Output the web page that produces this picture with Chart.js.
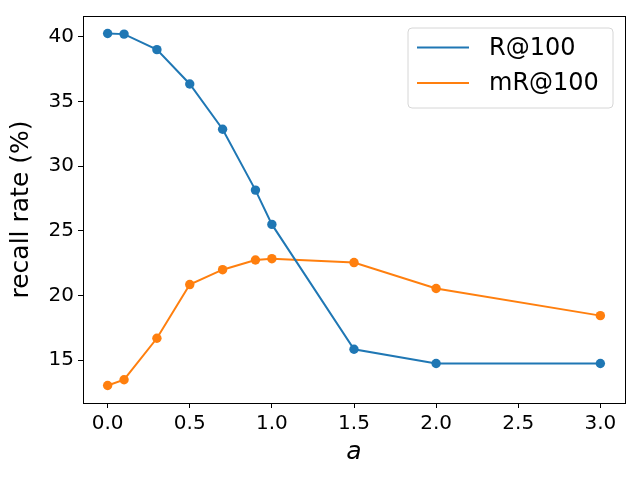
<!DOCTYPE html>
<html>
<head>
<meta charset="utf-8">
<script src="https://cdn.jsdelivr.net/npm/chart.js@4"></script>
<style>
  html,body{margin:0;padding:0;background:#fff;}
  #wrap{width:640px;height:480px;}
</style>
</head>
<body>
<div id="wrap"><canvas id="c" width="640" height="480"></canvas></div>
<script>
/* ── data ── */
const aValues  = [0, 0.1, 0.3, 0.5, 0.7, 0.9, 1.0, 1.5, 2.0, 3.0];
const recall   = [40.25, 40.2, 39.0, 36.35, 32.85, 28.15, 25.5, 15.85, 14.75, 14.75];
const mRecall  = [13.05, 13.5, 16.7, 20.85, 22.0, 22.75, 22.85, 22.55, 20.55, 18.45];
const xTicks   = [0, 0.5, 1.0, 1.5, 2.0, 2.5, 3.0];
const yTicks   = [15, 20, 25, 30, 35, 40];
const seriesNames = ['R@100', 'mR@100'];
const colors   = ['#1f77b4', '#ff7f0e'];

const FONT = "'DejaVu Sans', sans-serif";

// 위/오른쪽 테두리 + 범례 박스
const framePlugin = {
  id: 'frame',
  afterDraw(chart){
    const {ctx, chartArea:a} = chart;
    ctx.save();
    ctx.strokeStyle = '#000'; ctx.lineWidth = 1;
    ctx.strokeRect(a.left+0.5, a.top+0.5, a.right-a.left, a.bottom-a.top);

    // legend
    const bx=408, by=28, bw=205, bh=80, r=4;
    ctx.beginPath();
    ctx.moveTo(bx+r,by); ctx.lineTo(bx+bw-r,by); ctx.quadraticCurveTo(bx+bw,by,bx+bw,by+r);
    ctx.lineTo(bx+bw,by+bh-r); ctx.quadraticCurveTo(bx+bw,by+bh,bx+bw-r,by+bh);
    ctx.lineTo(bx+r,by+bh); ctx.quadraticCurveTo(bx,by+bh,bx,by+bh-r);
    ctx.lineTo(bx,by+r); ctx.quadraticCurveTo(bx,by,bx+r,by);
    ctx.closePath();
    ctx.fillStyle='rgba(255,255,255,0.8)'; ctx.fill();
    ctx.strokeStyle='#d6d6d6'; ctx.stroke();

    ctx.font = `24px ${FONT}`; ctx.textBaseline='middle'; ctx.fillStyle='#000';
    seriesNames.forEach((n,i)=>{
      const y = 47.5 + i*35.5;
      ctx.strokeStyle = colors[i]; ctx.lineWidth = 2;
      ctx.beginPath(); ctx.moveTo(417,y); ctx.lineTo(469,y); ctx.stroke();
      ctx.fillText(n, 489, y+1);
    });
    ctx.restore();
  }
};

new Chart(document.getElementById('c'), {
  type: 'line',
  data: {
    datasets: [recall, mRecall].map((vals,i)=>({
      label: seriesNames[i],
      data: aValues.map((x,j)=>({x, y: vals[j]})),
      borderColor: colors[i],
      backgroundColor: colors[i],
      borderWidth: 2,
      pointRadius: 4.7,
      pointBorderWidth: 0,
      tension: 0,
      fill: false
    }))
  },
  options: {
    responsive: false,
    animation: false,
    devicePixelRatio: 1,
    layout: {padding: {top: 15, right: 15, left: 2, bottom: 9}},
    plugins: {legend: {display: false}, tooltip: {enabled: false}},
    scales: {
      x: {
        type: 'linear', min: -0.15, max: 3.15,
        afterBuildTicks: s => { s.ticks = xTicks.map(v=>({value:v})); },
        afterFit: s => { s.height = 68; },
        ticks: {color:'#000', font:{family:FONT, size:20}, padding: 4, maxRotation: 0,
                callback: v => v.toFixed(1)},
        grid: {display: true, drawOnChartArea: false, drawTicks: true, tickLength: 5, color: '#000'},
        border: {display: true, color: '#000'},
        title: {display: true, text: 'a', color:'#000', padding: {top: 2},
                font: {family: FONT, size: 25, style: 'italic'}}
      },
      y: {
        type: 'linear', min: 11.7, max: 41.6,
        afterBuildTicks: s => { s.ticks = yTicks.map(v=>({value:v})); },
        afterFit: s => { s.width = 81; },
        ticks: {color:'#000', font:{family:FONT, size:20}, padding: 4},
        grid: {display: true, drawOnChartArea: false, drawTicks: true, tickLength: 5, color: '#000'},
        border: {display: true, color: '#000'},
        title: {display: true, text: 'recall rate (%)', color:'#000', padding: {bottom: 4},
                font: {family: FONT, size: 25}}
      }
    }
  },
  plugins: [framePlugin]
});
</script>
</body>
</html>
